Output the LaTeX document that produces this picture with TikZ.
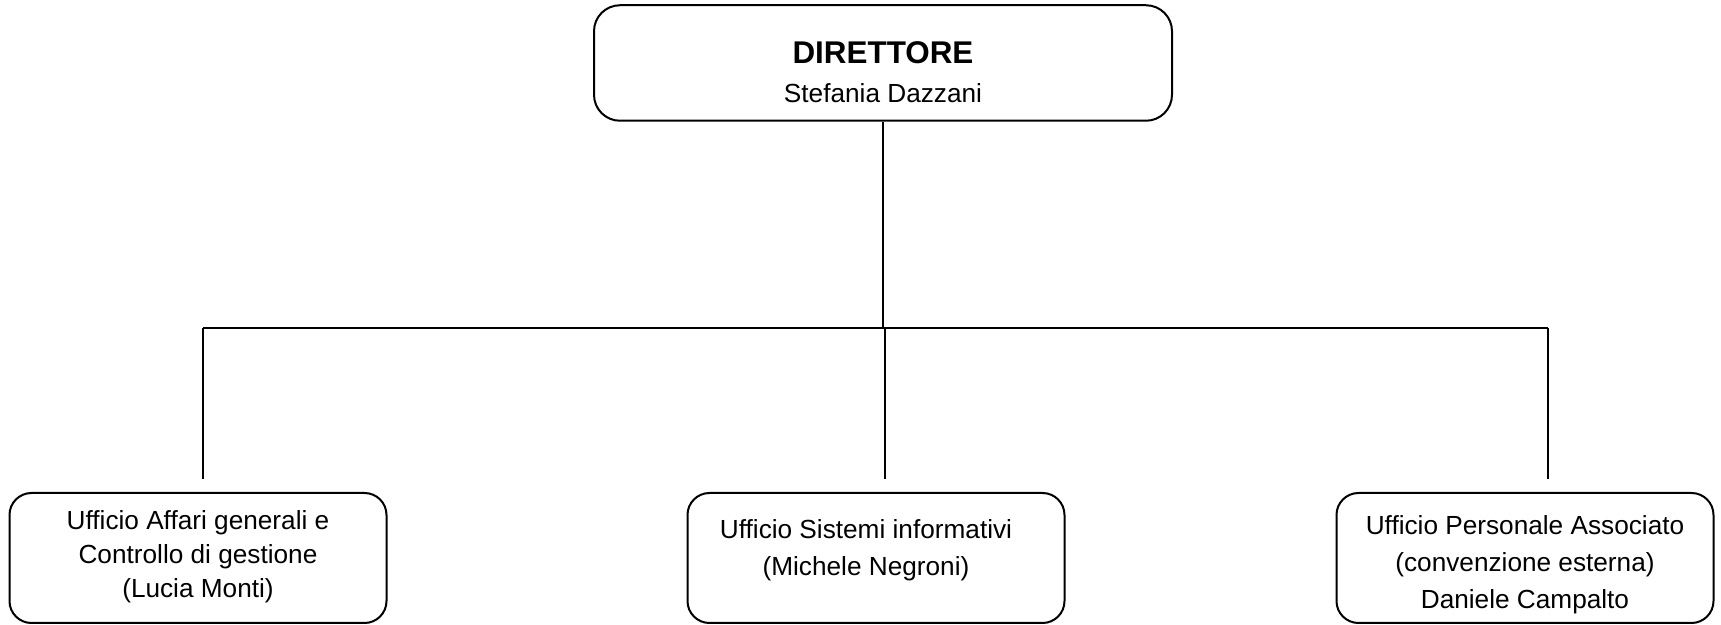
\documentclass[tikz,border=0pt]{standalone}
\usepackage{fontspec}
\setmainfont{Liberation Sans}
\tikzset{
  box/.style={draw, line width=1pt, rounded corners=11pt, minimum width=188.5pt, minimum height=65pt},
  txt/.style={align=center, font=\fontsize{13.1}{18.5}\selectfont},
  link/.style={line width=1pt}
}
\begin{document}
\begin{tikzpicture}[x=0.5pt,y=-0.5pt]
\useasboundingbox (0,0) rectangle (1721,625);

% Direttore
\node[box, rounded corners=13pt, minimum width=289pt, minimum height=57.75pt] (dir) at (883,63) {};
\node[txt] (dirtxt) at (883,72) {{\fontsize{15.7}{19}\selectfont\bfseries DIRETTORE}\\[1pt]Stefania Dazzani};

% Uffici
\node[box] (aff) at (198,558) {};
\node[txt, font=\fontsize{13.1}{17}\selectfont] (afftxt) at (198,557) {Ufficio Affari generali e\\Controllo di gestione\\(Lucia Monti)};

\node[box] (sis) at (876,558) {};
\node[txt] (sistxt) at (866,550) {Ufficio Sistemi informativi\\(Michele Negroni)};

\node[box] (per) at (1525,558) {};
\node[txt] (pertxt) at (1525,565) {Ufficio Personale Associato\\(convenzione esterna)\\Daniele Campalto};

% Collegamenti
\coordinate (bar) at (885,328);
\coordinate (barl) at (203,328);
\coordinate (barr) at (1548,328);
\coordinate (affend) at (203,479);
\coordinate (sisend) at (885,479);
\coordinate (perend) at (1548,479);

\draw[link] (dir.south) -- (dir.south |- bar);
\draw[link] (barl) -- (barr);
\draw[link] (barl) -- (affend);
\draw[link] (bar) -- (sisend);
\draw[link] (barr) -- (perend);

\end{tikzpicture}
\end{document}
